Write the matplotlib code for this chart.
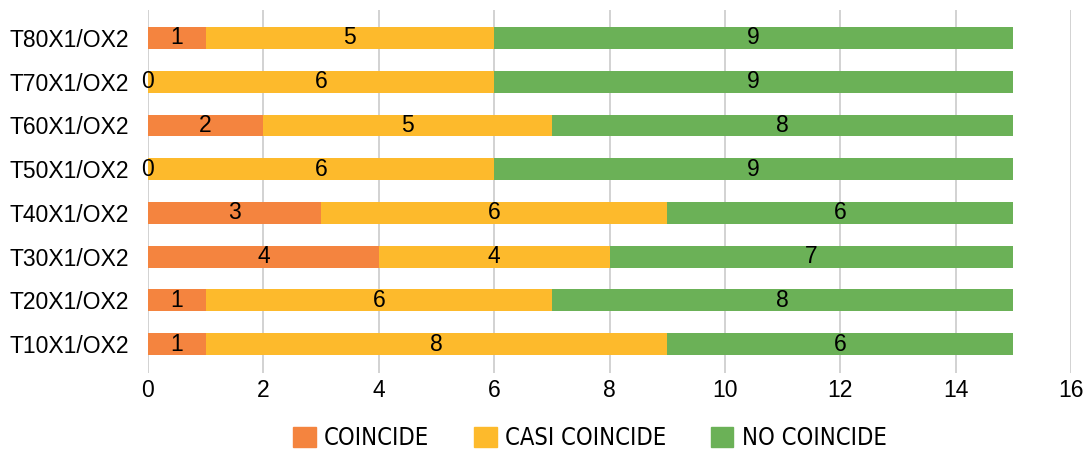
import numpy as np
import matplotlib.pyplot as plt
import matplotlib.patches as mpatches

categories = ["T10X1/OX2", "T20X1/OX2", "T30X1/OX2", "T40X1/OX2",
              "T50X1/OX2", "T60X1/OX2", "T70X1/OX2", "T80X1/OX2"]
coincide = [1, 1, 4, 3, 0, 2, 0, 1]
casi_coincide = [8, 6, 4, 6, 6, 5, 6, 5]
no_coincide = [6, 8, 7, 6, 9, 8, 9, 9]
series_names = ["COINCIDE", "CASI COINCIDE", "NO COINCIDE"]
colors = ["#F4843F", "#FDBA2C", "#6BB157"]

plt.rcParams['font.family'] = ['Liberation Sans', 'DejaVu Sans']

fig = plt.figure(figsize=(10.84, 4.53), dpi=100)
ax = fig.add_axes([148 / 1084, 1 - 373 / 453, (1071 - 148) / 1084, (373 - 10) / 453])

y = np.arange(len(categories))
left = np.zeros(len(categories))
for vals, name, c in zip([coincide, casi_coincide, no_coincide], series_names, colors):
    bars = ax.barh(y, vals, left=left, height=0.5, color=c, label=name, zorder=3)
    txts = ax.bar_label(bars, labels=[str(v) for v in vals], label_type='center',
                        fontsize=16.5, color='black')
    for t in txts:
        t.set_clip_on(False)
        t.set_zorder(5)
    left += np.array(vals)

ax.set_xlim(0, 16)
ax.set_ylim(-0.66, 7.64)
ax.set_xticks(range(0, 17, 2))
ax.set_yticks(y)
ax.set_yticklabels(categories)
ax.grid(axis='x', color='#CFCFCF', linewidth=1.3, zorder=0)
for s in ax.spines.values():
    s.set_visible(False)
ax.tick_params(axis='both', length=0, labelsize=16.5, colors='black')
ax.tick_params(axis='x', pad=4)
ax.tick_params(axis='y', pad=14)

handles = [mpatches.Patch(color=c, label=n) for c, n in zip(colors, series_names)]
leg = fig.legend(handles=handles, loc='center', bbox_to_anchor=(590 / 1084, 1 - 438 / 453),
                 ncol=3, frameon=False, handlelength=0.95, handleheight=0.95,
                 handletextpad=0.35, columnspacing=1.9,
                 prop={'family': 'DejaVu Sans', 'stretch': 'condensed', 'size': 17})

fig.savefig("out.png", dpi=100)
